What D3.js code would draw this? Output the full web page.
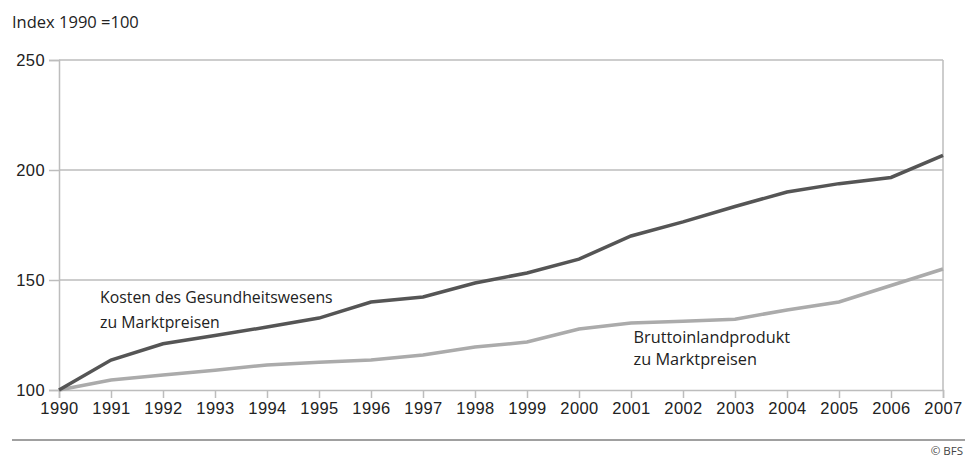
<!DOCTYPE html>
<html>
<head>
<meta charset="utf-8">
<script src="https://cdn.jsdelivr.net/npm/d3@7"></script>
<style>
  body { margin: 0; background: #fff; }
  svg { display: block; font-family: "Open Sans", sans-serif; }
</style>
</head>
<body>
<div id="chart"></div>
<script>
// data
const years = [1990, 1991, 1992, 1993, 1994, 1995, 1996, 1997, 1998, 1999,
               2000, 2001, 2002, 2003, 2004, 2005, 2006, 2007];
const kosten = [100, 113.6, 121.0, 124.8, 128.6, 132.7, 140.0, 142.3, 148.6, 153.2,
                159.5, 170.0, 176.4, 183.4, 190.0, 193.8, 196.6, 206.6];
const bip = [100, 104.5, 106.8, 109.0, 111.4, 112.6, 113.6, 115.9, 119.5, 121.8,
             127.7, 130.4, 131.2, 132.2, 136.4, 140.0, 147.5, 155.0];
const yTicks = [100, 150, 200, 250];

const width = 965, height = 459;
const margin = { top: 60, right: 22, bottom: 69, left: 59 };
const w = width - margin.left - margin.right;
const h = height - margin.top - margin.bottom;

const svg = d3.select("#chart").append("svg")
    .attr("width", width)
    .attr("height", height);

const g = svg.append("g")
    .attr("transform", `translate(${margin.left},${margin.top})`);

const x = d3.scaleLinear().domain([1990, 2007]).range([0, w]);
const y = d3.scaleLinear().domain([100, 250]).range([h, 0]);

// gridlines (incl. top border)
g.selectAll(".grid")
    .data(yTicks.slice(1))
    .enter().append("line")
    .attr("x1", 0).attr("x2", w)
    .attr("y1", d => y(d)).attr("y2", d => y(d))
    .attr("stroke", "#bdbdbd").attr("stroke-width", 1.5);

// right border
g.append("line")
    .attr("x1", w).attr("x2", w)
    .attr("y1", 0).attr("y2", h)
    .attr("stroke", "#bdbdbd").attr("stroke-width", 1.5);

// y axis
const yAxis = g.append("g")
    .call(d3.axisLeft(y).tickValues(yTicks).tickSize(10).tickPadding(4));
yAxis.select(".domain").attr("stroke", "#bdbdbd").attr("stroke-width", 1.5);
yAxis.selectAll(".tick line").attr("stroke", "#bdbdbd").attr("stroke-width", 1.5);
yAxis.selectAll("text").style("font-size", "16.5px").style("letter-spacing", "0.4px").attr("fill", "#222");

// x axis
const xAxis = g.append("g")
    .attr("transform", `translate(0,${h})`)
    .call(d3.axisBottom(x).tickValues(years).tickFormat(d3.format("d")).tickSize(8).tickPadding(4));
xAxis.select(".domain").attr("stroke", "#bdbdbd").attr("stroke-width", 1.5);
xAxis.selectAll(".tick line").attr("stroke", "#bdbdbd").attr("stroke-width", 1.5);
xAxis.selectAll("text").style("font-size", "16.5px").style("letter-spacing", "0.4px").attr("fill", "#222");

const line = d3.line()
    .x((d, i) => x(years[i]))
    .y(d => y(d));

g.append("path")
    .datum(bip)
    .attr("fill", "none")
    .attr("stroke", "#ababab")
    .attr("stroke-width", 3.5)
    .attr("d", line);

g.append("path")
    .datum(kosten)
    .attr("fill", "none")
    .attr("stroke", "#555555")
    .attr("stroke-width", 3.5)
    .attr("d", line);

// labels
const lab1 = g.append("text")
    .attr("x", x(1990.79)).attr("y", y(139.6))
    .style("font-size", "15.8px").attr("fill", "#222");
lab1.append("tspan").attr("x", x(1990.79)).text("Kosten des Gesundheitswesens");
lab1.append("tspan").attr("x", x(1990.79)).attr("dy", 25).text("zu Marktpreisen");

const lab2 = g.append("text")
    .attr("x", x(2001.05)).attr("y", y(121.2))
    .style("font-size", "16.3px").attr("fill", "#222");
lab2.append("tspan").attr("x", x(2001.05)).text("Bruttoinlandprodukt");
lab2.append("tspan").attr("x", x(2001.05)).attr("dy", 22).text("zu Marktpreisen");

// title
svg.append("text")
    .attr("x", 12).attr("y", 28)
    .style("font-size", "16.5px").attr("fill", "#222")
    .text("Index 1990 =100");

// bottom rule + source
svg.append("line")
    .attr("x1", 12).attr("x2", width)
    .attr("y1", 440).attr("y2", 440)
    .attr("stroke", "#a0a0a0").attr("stroke-width", 2);

svg.append("text")
    .attr("x", 963).attr("y", 455)
    .attr("text-anchor", "end")
    .style("font-size", "11.5px").attr("fill", "#444")
    .text("© BFS");
</script>
</body>
</html>
